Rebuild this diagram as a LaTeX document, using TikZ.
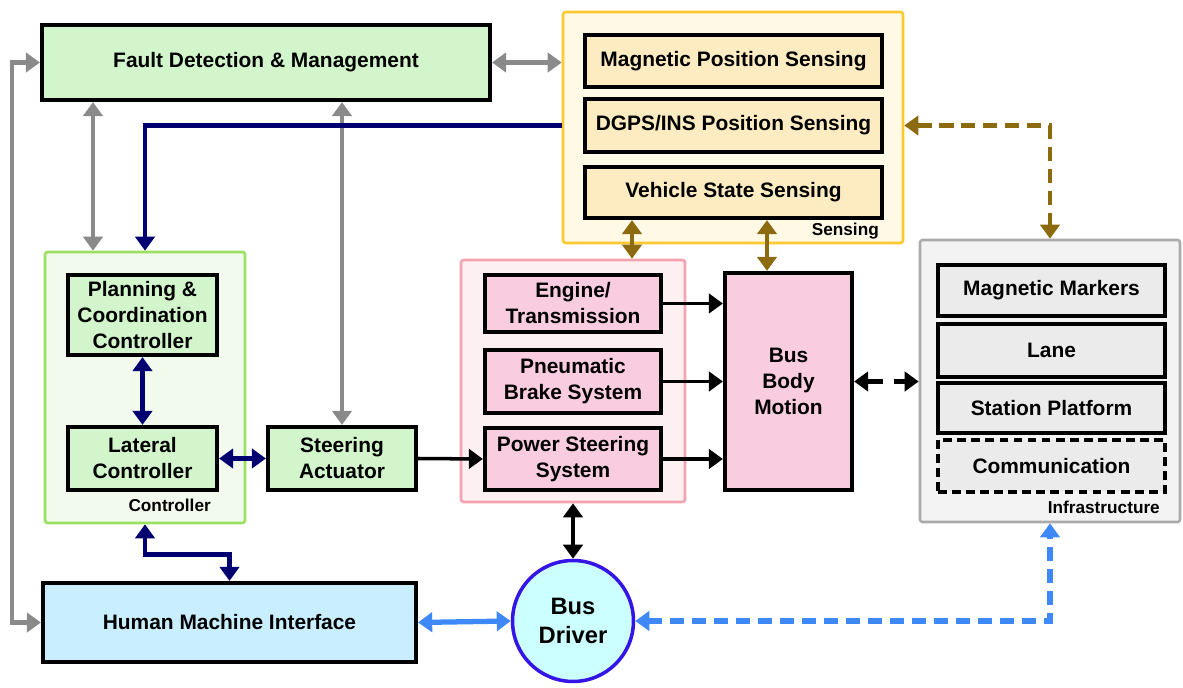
\documentclass[tikz,border=0pt]{standalone}
\usepackage{fontspec}
\setmainfont{Liberation Sans}
\usetikzlibrary{arrows.meta,fit,positioning}

\definecolor{grnbox}{HTML}{D2F5CC}
\definecolor{ctrlfill}{HTML}{F1FAEC}
\definecolor{ctrlline}{HTML}{9BE060}
\definecolor{sensfill}{HTML}{FFF9E6}
\definecolor{sensline}{HTML}{FFC82E}
\definecolor{sensbox}{HTML}{FDEBC2}
\definecolor{actfill}{HTML}{FDF0F3}
\definecolor{actline}{HTML}{F5A3B0}
\definecolor{actbox}{HTML}{F9CCDF}
\definecolor{infrafill}{HTML}{F3F3F3}
\definecolor{infraline}{HTML}{ABABAB}
\definecolor{infrabox}{HTML}{EBEBEB}
\definecolor{hmibox}{HTML}{C9EEFF}
\definecolor{drvfill}{HTML}{CCFFFF}
\definecolor{drvline}{HTML}{3414E6}
\definecolor{navy}{HTML}{000070}
\definecolor{brown}{HTML}{8C6A10}
\definecolor{skyblue}{HTML}{3F88F8}
\definecolor{linkgray}{HTML}{8A8A8A}

\newcommand\boxfont{\bfseries\fontsize{11.9}{14.8}\selectfont}
\newcommand\tagfont{\bfseries\fontsize{9.8}{11}\selectfont}

\tikzset{
  hd/.tip={Triangle[width=11pt,length=8pt]},
  grp/.style={line width=1.5pt, inner sep=0pt, rounded corners=1.5pt},
  blk/.style={draw=black, line width=2.4pt, inner sep=0pt},
  txt/.style={align=center, font=\boxfont, inner sep=0pt},
  tag/.style={font=\tagfont, anchor=base east},
  link/.style={line width=2.6pt},
  dashlink/.style={link, dash pattern=on 8pt off 4.5pt},
}

\begin{document}
\begin{tikzpicture}[x=0.02cm,y=-0.02cm]
\useasboundingbox (0,0) rectangle (1183,688);

% groups
\node[grp, draw=ctrlline, fill=ctrlfill, fit={(45,252) (245,523)}] (ctrl) {};
\node[grp, draw=sensline, fill=sensfill, fit={(563,12) (903,243)}] (sens) {};
\node[grp, draw=actline, fill=actfill, fit={(461,260) (685,502)}] (act) {};
\node[grp, draw=infraline, fill=infrafill, fit={(920,240) (1180,522)}] (infra) {};

\node[tag] (ctrltag) at (217,512) {Controller};
\node[tag] (senstag) at (885,236) {Sensing};
\node[tag] (infratag) at (1166,514) {Infrastructure};

% blocks
\node[blk, fill=grnbox, fit={(42,25) (490,100)}, label={[txt]center:Fault Detection \& Management}] (fault) {};

\node[blk, fill=sensbox, fit={(585,35) (882,87)}, label={[txt]center:Magnetic Position Sensing}] (mps) {};
\node[blk, fill=sensbox, fit={(585,99) (882,152)}, label={[txt]center:DGPS/INS Position Sensing}] (dgps) {};
\node[blk, fill=sensbox, fit={(585,167) (882,218)}, label={[txt]center:Vehicle State Sensing}] (vss) {};

\node[blk, fill=grnbox, fit={(68,275) (217,355)}, label={[txt]center:{Planning \&\\Coordination\\Controller}}] (plan) {};
\node[blk, fill=grnbox, fit={(68,427) (217,490)}, label={[txt]center:{Lateral\\Controller}}] (lat) {};
\node[blk, fill=grnbox, fit={(268,427) (416,490)}, label={[txt]center:{Steering\\Actuator}}] (steer) {};

\node[blk, fill=actbox, fit={(485,275) (661,332)}, label={[txt]center:{Engine/\\Transmission}}] (eng) {};
\node[blk, fill=actbox, fit={(485,350) (661,413)}, label={[txt]center:{Pneumatic\\Brake System}}] (brake) {};
\node[blk, fill=actbox, fit={(485,428) (661,490)}, label={[txt]center:{Power Steering\\System}}] (psteer) {};
\node[blk, fill=actbox, fit={(725,273) (852,490)}, label={[txt]center:{Bus\\Body\\Motion}}] (body) {};

\node[blk, fill=infrabox, fit={(938,265) (1165,316)}, label={[txt]center:Magnetic Markers}] (mark) {};
\node[blk, fill=infrabox, fit={(938,324) (1165,377)}, label={[txt]center:Lane}] (lane) {};
\node[blk, fill=infrabox, fit={(938,383) (1165,433)}, label={[txt]center:Station Platform}] (plat) {};
\node[blk, fill=infrabox, dash pattern=on 5pt off 3pt, fit={(938,440) (1165,492)}, label={[txt]center:Communication}] (comm) {};

\node[blk, fill=hmibox, fit={(43,583) (416,662)}, label={[txt]center:Human Machine Interface}] (hmi) {};
\node[circle, draw=drvline, line width=2pt, fill=drvfill, minimum size=2.42cm, inner sep=0pt,
  align=center, font=\bfseries\fontsize{13.5}{17}\selectfont] (drv) at (573,621) {Bus\\Driver};

% helper columns
\coordinate (gx) at (93,0);
\coordinate (bx1) at (632,0);
\coordinate (bx2) at (767,0);

% gray links
\draw[link, linkgray, hd-hd] (fault.west) -- ++(-28,0) |- (hmi.west);
\draw[link, linkgray, hd-hd] (fault.east) -- (fault.east -| sens.west);
\draw[link, linkgray, hd-hd] (fault.south -| gx) -- (ctrl.north -| gx);
\draw[link, linkgray, hd-hd] (fault.south -| steer.north) -- (steer.north);

% navy links
\draw[link, navy, -hd] (sens.west |- dgps.west) -| (ctrl.north);
\draw[link, navy, hd-hd] (plan.south) -- (lat.north);
\draw[link, navy, hd-hd] (lat.east) -- (steer.west);
\draw[link, navy, hd-hd] (ctrl.south) -- ++(0,30) -| (hmi.north);

% black links
\draw[link, line width=2pt, -hd] (steer.east) -- (psteer.west);
\draw[link, line width=2pt, -hd] (eng.east) -- (eng.east -| body.west);
\draw[link, line width=2pt, -hd] (brake.east) -- (brake.east -| body.west);
\draw[link, line width=2pt, -hd] (psteer.east) -- (psteer.east -| body.west);
\draw[link, hd-hd] (act.south) -- (drv.north);
\draw[link, hd-hd, dash pattern=on 9pt off 6pt] (body.east) -- (body.east -| infra.west);

% brown links
\draw[link, brown, hd-hd] (vss.south -| bx1) -- (act.north -| bx1);
\draw[link, brown, hd-hd] (vss.south -| bx2) -- (body.north -| bx2);
\draw[dashlink, brown, hd-hd] (sens.east |- dgps.east) -| (infra.north);

% blue links
\draw[link, skyblue, line width=3pt, hd-hd] (hmi.east) -- (drv.west);
\draw[dashlink, skyblue, line width=3pt, hd-hd] (drv.east) -| (infra.south);
\end{tikzpicture}
\end{document}
